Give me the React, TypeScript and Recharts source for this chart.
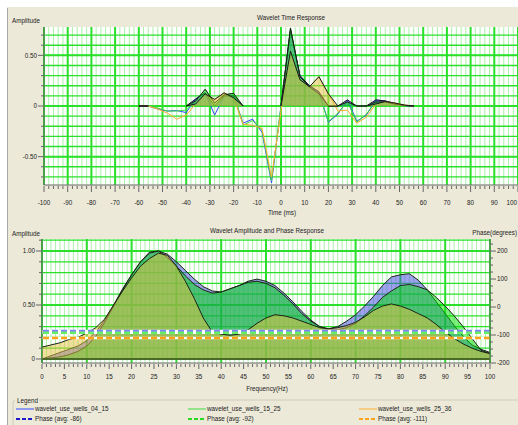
import React from 'react';
import { ComposedChart, Area, Line, XAxis, YAxis, CartesianGrid, ReferenceLine } from 'recharts';

// ---- Wavelet time response (time in ms, normalised amplitude) ----
const timeMs = [-60, -56, -52, -48, -44, -40, -36, -32, -28, -24, -20, -16, -12, -8, -4, 0, 4, 8, 12, 16, 20, 24, 28, 32, 36, 40, 44, 48, 52, 56];
const wells0415Time = [0, 0, -0.03, -0.05, -0.045, -0.065, 0.07, 0.13, -0.09, 0.1, 0.1, -0.17, -0.13, -0.26, -0.76, 0, 0.75, 0.3, 0.2, 0.14, -0.16, -0.08, 0.06, -0.15, -0.09, 0.06, 0.05, 0.02, 0.005, 0];
const wells1525Time = [0, 0, -0.02, -0.05, -0.05, -0.04, 0.05, 0.165, 0.03, 0.11, 0.125, -0.19, -0.145, -0.24, -0.74, 0, 0.77, 0.29, 0.19, 0.12, -0.155, -0.07, 0.04, -0.16, -0.08, 0.04, 0.04, 0.02, 0.005, 0];
const wells2536Time = [0, 0, -0.03, -0.07, -0.13, -0.09, 0.02, 0.12, 0.065, 0.13, 0.08, -0.18, -0.19, -0.22, -0.7, -0.05, 0.54, 0.26, 0.19, 0.29, 0.12, -0.05, -0.04, -0.17, -0.11, 0.02, 0.045, 0.03, 0.01, 0];

// ---- Amplitude spectra (frequency in Hz, normalised amplitude) ----
const freqHz = [0, 2, 4, 6, 8, 10, 12, 14, 16, 18, 20, 22, 24, 26, 28, 30, 32, 34, 36, 38, 40, 42, 44, 46, 48, 50, 52, 54, 56, 58, 60, 62, 64, 66, 68, 70, 72, 74, 76, 78, 80, 82, 84, 86, 88, 90, 92, 94, 96, 98, 100];
const wells0415Amp = [0, 0.03, 0.06, 0.09, 0.12, 0.17, 0.25, 0.36, 0.5, 0.65, 0.78, 0.9, 0.99, 1, 0.97, 0.9, 0.82, 0.74, 0.67, 0.63, 0.62, 0.65, 0.68, 0.72, 0.74, 0.72, 0.68, 0.61, 0.53, 0.44, 0.36, 0.3, 0.28, 0.3, 0.35, 0.41, 0.49, 0.58, 0.68, 0.76, 0.78, 0.79, 0.73, 0.64, 0.53, 0.42, 0.31, 0.21, 0.13, 0.09, 0.06];
const wells1525Amp = [0, 0.01, 0.02, 0.04, 0.07, 0.12, 0.21, 0.34, 0.49, 0.64, 0.78, 0.9, 0.98, 1, 0.94, 0.86, 0.77, 0.69, 0.64, 0.61, 0.62, 0.65, 0.68, 0.71, 0.72, 0.7, 0.66, 0.59, 0.51, 0.42, 0.35, 0.3, 0.27, 0.27, 0.29, 0.33, 0.4, 0.48, 0.57, 0.63, 0.68, 0.69, 0.67, 0.64, 0.57, 0.49, 0.4, 0.3, 0.19, 0.08, 0.05];
const wells2536Amp = [0.11, 0.13, 0.15, 0.18, 0.2, 0.24, 0.29, 0.37, 0.5, 0.63, 0.75, 0.86, 0.93, 0.98, 0.96, 0.86, 0.72, 0.56, 0.38, 0.25, 0.23, 0.22, 0.23, 0.27, 0.33, 0.38, 0.41, 0.4, 0.38, 0.35, 0.32, 0.29, 0.28, 0.29, 0.31, 0.34, 0.39, 0.45, 0.49, 0.51, 0.49, 0.46, 0.42, 0.38, 0.32, 0.25, 0.19, 0.14, 0.1, 0.07, 0.05];

// ---- Average phase (degrees) ----
const phaseAvgDeg = [-86, -92, -111];

const seriesNames = ['wavelet_use_wells_04_15', 'wavelet_use_wells_15_25', 'wavelet_use_wells_25_36'];
const lineColors = ['#3348ff', '#3ddc3d', '#ffad33'];
const fillColors = ['#4141e1', '#00e000', '#e6c040'];
const phaseChartColors = ['#8080ff', '#66ee66', '#ffa31a'];
const phaseLegendColors = ['#1a1acc', '#22dd22', '#ffa31a'];

const FONT = "'Liberation Sans', Arial, sans-serif";
const FS = 6.3;
const TXT = '#222';
const CHART_W = 518;

function range(a: number, b: number, step: number): number[] {
  const out: number[] = [];
  for (let i = 0; a + i * step <= b + 1e-9; i++) out.push(Math.round((a + i * step) * 1000) / 1000);
  return out;
}
const isMult = (v: number, m: number) => Math.abs(v / m - Math.round(v / m)) < 1e-6;

// tick / grid positions
const timeTicks = range(-100, 100, 2);
const timeMajor = range(-100, 100, 10);
const ampTopTicks = range(-0.7, 0.7, 0.1);
const ampTopMajor = [-0.5, 0, 0.5];
const freqTicks = range(0, 100, 1);
const freqMajor = range(0, 100, 10);
const ampBottomTicks = range(0, 1.1, 0.1);
const ampBottomMajor = [0.5, 1];
const phaseTicks = range(-200, 225, 25);

// positive lobes only (filled parts of the time response)
function positivePart(vals: number[]): (number | null)[] {
  return vals.map((v, i) => {
    if (v >= 0) return v;
    const prev = i > 0 ? vals[i - 1] : -1;
    const next = i < vals.length - 1 ? vals[i + 1] : -1;
    return prev > 0 || next > 0 ? 0 : null;
  });
}
const posB = positivePart(wells0415Time);
const posG = positivePart(wells1525Time);
const posO = positivePart(wells2536Time);

const timeData = timeMs.map((t, i) => ({
  t,
  b: wells0415Time[i],
  g: wells1525Time[i],
  o: wells2536Time[i],
  bp: posB[i],
  gp: posG[i],
  op: posO[i],
}));

const freqData = freqHz.map((f, i) => ({
  f,
  b: wells0415Amp[i],
  g: wells1525Amp[i],
  o: wells2536Amp[i],
}));

const AXIS = '#666';

function TimeTick(props: any) {
  const { x, y, payload } = props;
  const v = payload.value as number;
  const major = isMult(v, 10);
  // keep the last label inside the drawing
  const atEdge = x + 6 > CHART_W;
  return (
    <g>
      <line x1={x} x2={x} y1={y + 1} y2={y + (major ? 7 : 4)} stroke={AXIS} strokeWidth={1} />
      {major && (
        <text
          x={atEdge ? CHART_W - 1 : x}
          y={y + 20}
          textAnchor={atEdge ? 'end' : 'middle'}
          fontSize={FS}
          fontFamily={FONT}
          fill={TXT}
        >
          {v}
        </text>
      )}
    </g>
  );
}

function FreqTick(props: any) {
  const { x, y, payload } = props;
  const v = payload.value as number;
  const major = isMult(v, 5);
  return (
    <g>
      <line x1={x} x2={x} y1={y + 1} y2={y + (major ? 6 : 4)} stroke={AXIS} strokeWidth={1} />
      {major && (
        <text x={x} y={y + 16} textAnchor="middle" fontSize={FS} fontFamily={FONT} fill={TXT}>
          {v}
        </text>
      )}
    </g>
  );
}

function LeftAmpTick(props: any) {
  const { x, y, payload } = props;
  const v = payload.value as number;
  const major = isMult(v, 0.5);
  return (
    <g>
      <line x1={x - (major ? 6 : 3)} x2={x} y1={y} y2={y} stroke={AXIS} strokeWidth={1} />
      {major && (
        <text x={x - 7} y={y + 2.2} textAnchor="end" fontSize={FS} fontFamily={FONT} fill={TXT}>
          {v === 0 ? '0' : v.toFixed(2)}
        </text>
      )}
    </g>
  );
}

function PhaseTick(props: any) {
  const { x, y, payload } = props;
  const v = payload.value as number;
  const major = isMult(v, 100);
  return (
    <g>
      <line x1={x} x2={x + (major ? 6 : 3)} y1={y} y2={y} stroke={AXIS} strokeWidth={1} />
      {major && (
        <text x={x + 7} y={y + 2.2} textAnchor="start" fontSize={FS} fontFamily={FONT} fill={TXT}>
          {v}
        </text>
      )}
    </g>
  );
}

const GRID_MAJOR = '#2be02b';
const GRID_MINOR = '#aaf2aa';

function TimeResponseChart() {
  return (
    <ComposedChart width={CHART_W} height={215} data={timeData} margin={{ top: 27, right: 0, bottom: 0, left: 0 }}>
      <CartesianGrid fill="#ffffff" stroke={GRID_MINOR} horizontal={false} verticalValues={timeTicks} />
      <CartesianGrid stroke={GRID_MAJOR} strokeWidth={1.3} vertical={false} horizontalValues={ampTopTicks} />
      <CartesianGrid stroke={GRID_MAJOR} strokeWidth={2} horizontal={false} verticalValues={timeMajor} />
      <CartesianGrid stroke={GRID_MAJOR} strokeWidth={2} vertical={false} horizontalValues={ampTopMajor} />
      <XAxis
        dataKey="t"
        type="number"
        domain={[-100, 100]}
        ticks={timeTicks}
        interval={0}
        height={30}
        tickLine={false}
        tickSize={0}
        tickMargin={0}
        axisLine={{ stroke: AXIS }}
        tick={(p: any) => <TimeTick {...p} />}
        allowDataOverflow
      />
      <YAxis
        type="number"
        domain={[-0.78, 0.78]}
        ticks={ampTopTicks}
        interval={0}
        width={44}
        tickLine={false}
        tickSize={0}
        tickMargin={0}
        axisLine={{ stroke: AXIS }}
        tick={(p: any) => <LeftAmpTick {...p} />}
        allowDataOverflow
      />
      {(['b', 'g', 'o'] as const).map((k, i) => (
        <Line
          key={k}
          dataKey={k}
          type="linear"
          stroke={lineColors[i]}
          strokeWidth={1}
          dot={false}
          activeDot={false}
          isAnimationActive={false}
          zIndex={50}
        />
      ))}
      {(['bp', 'gp', 'op'] as const).map((k, i) => (
        <Area
          key={k}
          dataKey={k}
          type="linear"
          stroke="#1a1a1a"
          strokeWidth={1}
          fill={fillColors[i]}
          fillOpacity={0.5}
          dot={false}
          activeDot={false}
          connectNulls={false}
          isAnimationActive={false}
        />
      ))}
    </ComposedChart>
  );
}

function SpectrumChart() {
  return (
    <ComposedChart width={CHART_W} height={160} data={freqData} margin={{ top: 14, right: 0, bottom: 0, left: 0 }}>
      <CartesianGrid fill="#ffffff" stroke={GRID_MINOR} horizontal={false} verticalValues={freqTicks} yAxisId="amp" />
      <CartesianGrid stroke={GRID_MAJOR} strokeWidth={1.3} vertical={false} horizontalValues={ampBottomTicks} yAxisId="amp" />
      <CartesianGrid stroke={GRID_MAJOR} strokeWidth={2} horizontal={false} verticalValues={freqMajor} yAxisId="amp" />
      <CartesianGrid stroke={GRID_MAJOR} strokeWidth={2} vertical={false} horizontalValues={ampBottomMajor} yAxisId="amp" />
      <XAxis
        dataKey="f"
        type="number"
        domain={[0, 100]}
        ticks={freqTicks}
        interval={0}
        height={22}
        tickLine={false}
        tickSize={0}
        tickMargin={0}
        axisLine={{ stroke: AXIS }}
        tick={(p: any) => <FreqTick {...p} />}
        allowDataOverflow
      />
      <YAxis
        yAxisId="amp"
        type="number"
        domain={[-0.037, 1.111]}
        ticks={ampBottomTicks}
        interval={0}
        width={42}
        tickLine={false}
        tickSize={0}
        tickMargin={0}
        axisLine={{ stroke: AXIS }}
        tick={(p: any) => <LeftAmpTick {...p} />}
        allowDataOverflow
      />
      <YAxis
        yAxisId="phase"
        orientation="right"
        type="number"
        domain={[-200, 243]}
        ticks={phaseTicks}
        interval={0}
        width={28}
        tickLine={false}
        tickSize={0}
        tickMargin={0}
        axisLine={{ stroke: AXIS }}
        tick={(p: any) => <PhaseTick {...p} />}
        allowDataOverflow
      />
      {(['b', 'g', 'o'] as const).map((k, i) => (
        <Area
          key={k}
          yAxisId="amp"
          dataKey={k}
          type="linear"
          stroke="#1c2414"
          strokeWidth={1}
          fill={fillColors[i]}
          fillOpacity={0.5}
          dot={false}
          activeDot={false}
          isAnimationActive={false}
        />
      ))}
      <ReferenceLine yAxisId="amp" y={0} stroke="#4a6a28" strokeWidth={2} />
      {phaseAvgDeg.map((p, i) => (
        <ReferenceLine key={'w' + i} yAxisId="phase" y={p} stroke="#ffffff" strokeWidth={2.5} />
      ))}
      {phaseAvgDeg.map((p, i) => (
        <ReferenceLine
          key={'p' + i}
          yAxisId="phase"
          y={p}
          stroke={phaseChartColors[i]}
          strokeWidth={2.5}
          strokeDasharray="6 3"
        />
      ))}
    </ComposedChart>
  );
}

function LegendBox() {
  const cols = [16, 188, 359];
  return (
    <g fontFamily={FONT} fontSize={FS} fill={TXT}>
      <rect x={13} y={400} width={520} height={40} rx={3} fill="none" stroke="#cfccbc" />
      <rect x={15} y={397} width={24} height={7} fill="#ECE9D8" />
      <text x={17} y={403}>Legend</text>
      {cols.map((cx, i) => (
        <g key={i}>
          <line x1={cx} x2={cx + 18} y1={409} y2={409} stroke={lineColors[i]} strokeWidth={1} />
          <text x={cx + 19} y={411.2}>{seriesNames[i]}</text>
          <line
            x1={cx}
            x2={cx + 18}
            y1={419}
            y2={419}
            stroke={phaseLegendColors[i]}
            strokeWidth={1.8}
            strokeDasharray="4 2"
          />
          <text x={cx + 19} y={421.2}>{`Phase (avg: ${phaseAvgDeg[i]})`}</text>
        </g>
      ))}
    </g>
  );
}

export default function App() {
  return (
    <div
      style={{
        position: 'absolute',
        left: 0,
        top: 0,
        width: 518,
        height: 425,
        overflow: 'hidden',
        background: '#ECE9D8',
      }}
    >
      <div style={{ position: 'absolute', left: 0, top: 0, width: 518, height: 7, background: '#fff' }} />
      <div style={{ position: 'absolute', left: 0, top: 0, width: 7, height: 425, background: '#fff' }} />
      <div style={{ position: 'absolute', left: 7, top: 8, width: 1, height: 417, background: '#a8a8a8' }} />
      <div style={{ position: 'absolute', left: 0, top: 0 }}>
        <TimeResponseChart />
      </div>
      <div style={{ position: 'absolute', left: 0, top: 225 }}>
        <SpectrumChart />
      </div>
      <svg
        width={518}
        height={425}
        style={{ position: 'absolute', left: 0, top: 0, pointerEvents: 'none' }}
      >
        <g fontFamily={FONT} fontSize={FS} fill={TXT}>
          <text x={12} y={23}>Amplitude</text>
          <text x={291} y={20} textAnchor="middle">Wavelet Time Response</text>
          <text x={282} y={215} textAnchor="middle">Time (ms)</text>
          <text x={12} y={236}>Amplitude</text>
          <text x={267} y={233} textAnchor="middle">Wavelet Amplitude and Phase Response</text>
          <text x={517} y={235} textAnchor="end">Phase(degrees)</text>
          <text x={267} y={391} textAnchor="middle">Frequency(Hz)</text>
        </g>
        <LegendBox />
      </svg>
    </div>
  );
}
